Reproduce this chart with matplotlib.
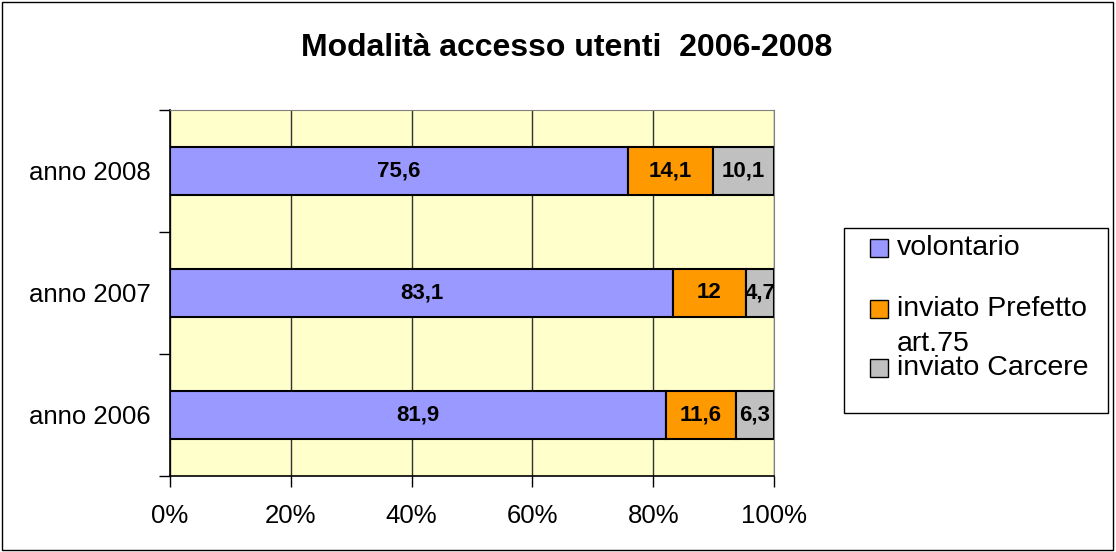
import numpy as np
import matplotlib
matplotlib.use('Agg')
import matplotlib.pyplot as plt
from matplotlib.patches import Rectangle

plt.rcParams['font.family'] = ['Liberation Sans', 'DejaVu Sans']

years = ['anno 2006', 'anno 2007', 'anno 2008']
volontario = [81.9, 83.1, 75.6]
prefetto = [11.6, 12, 14.1]
carcere = [6.3, 4.7, 10.1]
series_names = ['volontario', 'inviato Prefetto\nart.75', 'inviato Carcere']
colors = ['#9999FF', '#FF9900', '#C0C0C0']
title = 'Modalità accesso utenti  2006-2008'

raw = np.array([volontario, prefetto, carcere], dtype=float)
share = raw / raw.sum(axis=0) * 100

fig = plt.figure(figsize=(11.16, 5.52), dpi=100)
ax = fig.add_axes([170 / 1116, 76 / 552, 604 / 1116, 366 / 552])
ax.set_facecolor('#FFFFCC')

y = np.arange(len(years))
left = np.zeros(len(years))
for i in range(3):
    bars = ax.barh(y, share[i], left=left, height=0.39, color=colors[i],
                   edgecolor='black', linewidth=1.5, zorder=3)
    labels = [f'{v:g}'.replace('.', ',') for v in raw[i]]
    ax.bar_label(bars, labels=labels, label_type='center',
                 fontsize=16, fontweight='bold', zorder=4)
    left += share[i]

ax.set_xlim(0, 100)
ax.set_ylim(-0.5, len(years) - 0.5)
ax.set_xticks(np.arange(0, 101, 20))
ax.set_xticklabels([f'{t}%' for t in range(0, 101, 20)], fontsize=18.5)
ax.xaxis.grid(True, color='#333333', linewidth=1, zorder=0)
ax.set_axisbelow(True)
ax.tick_params(axis='x', length=8, width=1, pad=12.5)

ax.set_yticks(y)
ax.set_yticklabels(years, fontsize=18.5)
ax.set_yticks(np.arange(-0.5, len(years), 1), minor=True)
ax.tick_params(axis='y', which='major', length=0, pad=14)
ax.tick_params(axis='y', which='minor', length=8, width=1)

for side in ['top', 'right']:
    ax.spines[side].set_color('#808080')
for side in ['left', 'bottom']:
    ax.spines[side].set_color('black')
    ax.spines[side].set_linewidth(1.2)

fig.text(567 / 1116, 1 - 48 / 552, title, ha='center', va='center',
         fontsize=23, fontweight='bold')

# legend drawn like the spreadsheet one (handle next to first line of label)
fig.patches.append(Rectangle((844 / 1116, 1 - 413 / 552), 264 / 1116, 185 / 552,
                             transform=fig.transFigure, facecolor='white',
                             edgecolor='black', linewidth=1))
entry_y = [248, 309, 368]
for name, col, ey in zip(series_names, colors, entry_y):
    fig.patches.append(Rectangle((870 / 1116, 1 - (ey + 9) / 552), 18 / 1116, 18 / 552,
                                 transform=fig.transFigure, facecolor=col,
                                 edgecolor='black', linewidth=1))
    for k, line in enumerate(name.split('\n')):
        fig.text(897 / 1116, 1 - (ey + 35 * k) / 552, line, ha='left', va='center',
                 fontsize=20.5)

fig.patches.append(Rectangle((0.002, 0.003), 0.995, 0.994, transform=fig.transFigure,
                             fill=False, edgecolor='black', linewidth=1))

fig.savefig('out.png', dpi=100)
